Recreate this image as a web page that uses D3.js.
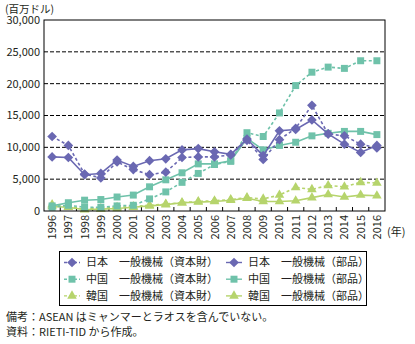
<!DOCTYPE html>
<meta charset="utf-8">
<head>
<style>
body { margin: 0; background: #fff; }
text { font-family: "Noto Sans CJK JP", "Noto Sans", sans-serif; fill: #231f20; }
.grid line { stroke: #000; stroke-dasharray: 4,2; stroke-width: 1; }
</style>
</head>
<body>
<div id="chart"></div>
<script src="https://d3js.org/d3.v7.min.js"></script>
<script>
// years on the x axis
var years = ["1996","1997","1998","1999","2000","2001","2002","2003","2004","2005","2006",
             "2007","2008","2009","2010","2011","2012","2013","2014","2015","2016"];
var yTicks = [0, 5000, 10000, 15000, 20000, 25000, 30000];

// exports of general machinery (million US$)
var japanCapital = [11700,10300,5800,5200,7700,6500,5700,6100,8400,8500,8500,8800,11100,8100,11200,13000,16600,12100,11800,10500,9900];
var japanParts   = [8500,8400,5700,5900,8000,7000,7900,8200,9600,9800,9300,8900,11300,8700,12600,12800,14300,12100,10500,9200,10300];
var chinaCapital = [600,900,600,600,800,900,1900,3000,4500,5900,7300,7800,12300,11700,15400,19700,21800,22600,22400,23600,23600];
var chinaParts   = [800,1300,1700,1800,2200,2500,3800,4900,6000,7400,7400,7900,11400,9600,10300,10800,11800,12200,12500,12500,12000];
var koreaCapital = [1000,700,300,400,600,700,900,1100,1300,1500,1600,1800,2100,1900,2500,3700,3400,4000,3800,4500,4400];
var koreaParts   = [700,600,200,300,400,600,800,1000,1300,1400,1500,1700,2000,1500,1500,1600,2100,2600,2200,2500,2400];

var purple = "#6a68b2", teal = "#6fc2aa", lime = "#b6d46c";

var series = [
  {name: "韓国　一般機械（資本財）", values: koreaCapital, color: lime, shape: "tri", dash: true},
  {name: "韓国　一般機械（部品）",   values: koreaParts,   color: lime, shape: "tri", dash: false},
  {name: "中国　一般機械（資本財）", values: chinaCapital, color: teal, shape: "sq", dash: true},
  {name: "中国　一般機械（部品）",   values: chinaParts,   color: teal, shape: "sq", dash: false},
  {name: "日本　一般機械（資本財）", values: japanCapital, color: purple, shape: "dia", dash: true},
  {name: "日本　一般機械（部品）",   values: japanParts,   color: purple, shape: "dia", dash: false}
];

var W = 415, H = 344;
var plot = {left: 44, top: 20, right: 385, bottom: 211};

var svg = d3.select("#chart").append("svg")
    .attr("width", W).attr("height", H);

var x = d3.scaleBand().domain(years).range([plot.left, plot.right]);
var cx = function(d) { return x(d) + x.bandwidth() / 2; };
var y = d3.scaleLinear().domain([0, 30000]).range([plot.bottom, plot.top]);

function symbolFor(shape) {
  if (shape == "dia") return d3.symbol().type(d3.symbolDiamond2).size(60);
  if (shape == "sq") return d3.symbol().type(d3.symbolSquare2).size(62);
  return d3.symbol().type(d3.symbolTriangle).size(40);
}

// dashed gridlines
svg.append("g").attr("class", "grid")
  .selectAll("line")
  .data(yTicks.filter(function(t) { return t > 0 && t < 30000; }))
  .enter().append("line")
    .attr("x1", plot.left).attr("x2", plot.right)
    .attr("y1", function(d) { return y(d); })
    .attr("y2", function(d) { return y(d); });

// y tick labels
svg.append("g")
  .selectAll("text")
  .data(yTicks)
  .enter().append("text")
    .attr("x", plot.left - 4)
    .attr("y", function(d) { return y(d); })
    .attr("dy", "0.36em")
    .attr("text-anchor", "end")
    .style("font-size", "11px")
    .text(function(d) { return d3.format(",")(d); });

svg.append("text")
  .attr("x", 5).attr("y", 13)
  .style("font-size", "10.5px")
  .text("(百万ドル)");

// x ticks on category boundaries, pointing up into the plot
var bounds = years.slice(1).map(function(d) { return x(d); });
svg.append("g")
  .selectAll("line")
  .data(bounds)
  .enter().append("line")
    .attr("x1", function(d) { return d; }).attr("x2", function(d) { return d; })
    .attr("y1", plot.bottom).attr("y2", plot.bottom - 4)
    .attr("stroke", "#000");

svg.append("g")
  .selectAll("text")
  .data(years)
  .enter().append("text")
    .attr("transform", function(d) { return "translate(" + (cx(d) + 4) + "," + (plot.bottom + 4) + ") rotate(-90)"; })
    .attr("text-anchor", "end")
    .style("font-size", "11px")
    .text(function(d) { return d; });

svg.append("text")
  .attr("x", 387).attr("y", 236)
  .style("font-size", "11px")
  .text("(年)");

// lines and markers
var line = d3.line()
  .x(function(d, i) { return cx(years[i]); })
  .y(function(d) { return y(d); });

series.forEach(function(s) {
  var g = svg.append("g");
  g.append("path")
    .datum(s.values)
    .attr("d", line)
    .attr("fill", "none")
    .attr("stroke", s.color)
    .attr("stroke-width", 1.6)
    .attr("stroke-dasharray", s.dash ? "3,2.5" : null);
  g.selectAll("path.m")
    .data(s.values)
    .enter().append("path")
      .attr("class", "m")
      .attr("d", symbolFor(s.shape))
      .attr("transform", function(d, i) { return "translate(" + cx(years[i]) + "," + y(d) + ")"; })
      .attr("fill", s.color);
});

// plot frame
svg.append("rect")
  .attr("x", plot.left).attr("y", plot.top)
  .attr("width", plot.right - plot.left).attr("height", plot.bottom - plot.top)
  .attr("fill", "none").attr("stroke", "#000").attr("stroke-width", 1);

// legend
var legendOrder = [4, 5, 2, 3, 0, 1];
svg.append("rect")
  .attr("x", 59.5).attr("y", 251.5).attr("width", 307).attr("height", 54)
  .attr("fill", "#fff").attr("stroke", "#000").attr("stroke-width", 1);

var legend = svg.selectAll(".legend")
  .data(legendOrder)
  .enter().append("g")
    .attr("class", "legend")
    .attr("transform", function(d, i) {
      var col = i % 2, row = Math.floor(i / 2);
      return "translate(" + (64 + col * 162) + "," + (262.5 + row * 16.7) + ")";
    });

legend.append("line")
  .attr("x1", 0).attr("x2", 16)
  .attr("stroke", function(d) { return series[d].color; })
  .attr("stroke-width", 1.4)
  .attr("stroke-dasharray", function(d) { return series[d].dash ? "3,2" : null; });

legend.append("path")
  .attr("transform", "translate(8,0)")
  .attr("d", function(d) { return symbolFor(series[d].shape)(); })
  .attr("fill", function(d) { return series[d].color; });

legend.append("text")
  .attr("x", 22).attr("dy", "0.36em")
  .style("font-size", "11px")
  .text(function(d) { return series[d].name; });

// notes
svg.append("text").attr("x", 6).attr("y", 321).style("font-size", "11px")
  .text("備考：ASEAN はミャンマーとラオスを含んでいない。");
svg.append("text").attr("x", 6).attr("y", 336).style("font-size", "11px")
  .text("資料：RIETI-TID から作成。");
</script>
</body>
